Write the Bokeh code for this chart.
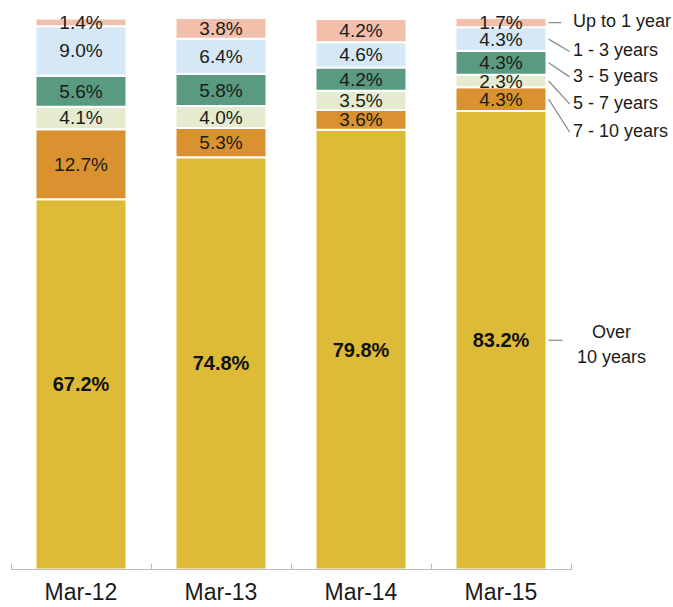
from bokeh.plotting import figure
from bokeh.models import ColumnDataSource, FixedTicker, Range1d
from bokeh.core.properties import value
from bokeh.embed import file_html
from bokeh.resources import INLINE

# ---- data ----
periods = ["Mar-12", "Mar-13", "Mar-14", "Mar-15"]
buckets = ["Over 10 years", "7 - 10 years", "5 - 7 years", "3 - 5 years", "1 - 3 years", "Up to 1 year"]
over_10 = [67.2, 74.8, 79.8, 83.2]
y7_10 = [12.7, 5.3, 3.6, 4.3]
y5_7 = [4.1, 4.0, 3.5, 2.3]
y3_5 = [5.6, 5.8, 4.2, 4.3]
y1_3 = [9.0, 6.4, 4.6, 4.3]
upto_1 = [1.4, 3.8, 4.2, 1.7]
series = [over_10, y7_10, y5_7, y3_5, y1_3, upto_1]

# ---- style ----
colors = ["#DDBB36", "#DA9230", "#E6EBCF", "#5A9A80", "#D6E8F5", "#F2BFAA"]
FONT = "Liberation Sans"
TXT = "#1b1b1b"
LEAD = "#8C8C8C"
# legend label vertical positions (layout, in % units) for the right-hand labels
label_y = [40.9, 79.6, 84.7, 89.6, 94.2, 99.6]
label_text = ["Over\n10 years", "7 - 10 years", "5 - 7 years", "3 - 5 years", "1 - 3 years", "Up to 1 year"]

W, H = 673, 607
px_per_unit = 140.0
left_px = 10.5
x0 = -0.5 - left_px / px_per_unit
x1 = x0 + W / px_per_unit
top_px = 18.0
bottom_border = 37
px_per_pct = (H - bottom_border - top_px) / 100.0
y_end = 100 + top_px / px_per_pct

p = figure(width=W, height=H, output_backend="svg", toolbar_location=None,
           x_range=Range1d(x0, x1), y_range=Range1d(0, y_end),
           y_axis_location=None, min_border_left=0, min_border_right=0,
           min_border_top=0, min_border_bottom=bottom_border)
p.outline_line_color = None
p.xgrid.visible = False
p.ygrid.visible = False
p.background_fill_color = "white"
p.border_fill_color = "white"

xs = list(range(len(periods)))
bw = 0.65
data = {"x": xs}
names = []
for i, s in enumerate(series):
    n = f"s{i}"
    data[n] = s
    names.append(n)
src = ColumnDataSource(data)
p.vbar_stack(names, x="x", width=bw, color=colors, source=src,
             line_color="white", line_width=2)

# segment value labels
lx, ly, lt = [], [], []
bx, by, bt = [], [], []
for j in xs:
    base = 0.0
    for i, s in enumerate(series):
        v = s[j]
        if i == 0:
            bx.append(j); by.append(base + v / 2); bt.append(f"{v:.1f}%")
        else:
            lx.append(j); ly.append(base + v / 2); lt.append(f"{v:.1f}%")
        base += v
p.text(x=lx, y=ly, text=lt, text_font=value(FONT),
       text_font_size="19px", text_color=TXT,
       text_align="center", text_baseline="middle")
p.text(x=bx, y=by, text=bt, text_font=value(FONT),
       text_font_size="20px", text_font_style="bold", text_color="#111111",
       text_align="center", text_baseline="middle")

# right-hand labels with leader lines (from last bar)
last = len(periods) - 1
mids = []
base = 0.0
for s in series:
    mids.append(base + s[last] / 2)
    base += s[last]
x_start = last + bw / 2 + 0.015
x_text = 3.5 + 2.0 / px_per_unit
for i in range(len(series)):
    if i == 0:
        p.segment(x0=[x_start], y0=[mids[i]], x1=[3.5 - 0.06], y1=[mids[i]],
                  line_color=LEAD, line_width=1.3)
        p.text(x=[3.79], y=[label_y[i]], text=[label_text[i]], text_font=value(FONT),
               text_font_size="18px", text_color=TXT, text_align="center",
               text_baseline="middle", text_line_height=1.25)
    elif i == len(series) - 1:
        p.segment(x0=[x_start], y0=[mids[i]], x1=[3.5 - 0.07], y1=[mids[i]],
                  line_color=LEAD, line_width=1.3)
        p.text(x=[x_text], y=[label_y[i]], text=[label_text[i]], text_font=value(FONT),
               text_font_size="18px", text_color=TXT, text_align="left",
               text_baseline="middle")
    else:
        p.segment(x0=[x_start], y0=[mids[i]], x1=[3.5 - 0.01], y1=[label_y[i] - 0.2],
                  line_color=LEAD, line_width=1.3)
        p.text(x=[x_text], y=[label_y[i]], text=[label_text[i]], text_font=value(FONT),
               text_font_size="18px", text_color=TXT, text_align="left",
               text_baseline="middle")

ax = p.xaxis[0]
ax.ticker = FixedTicker(ticks=xs, minor_ticks=[j - 0.5 for j in xs] + [xs[-1] + 0.5])
ax.major_label_overrides = {j: periods[j] for j in xs}
ax.bounds = (-0.5, len(periods) - 0.5)
ax.axis_line_color = "#BDBDBD"
ax.axis_line_width = 1.2
ax.major_tick_in = 0
ax.major_tick_out = 0
ax.minor_tick_in = 6
ax.minor_tick_out = 0
ax.minor_tick_line_color = "#BDBDBD"
ax.minor_tick_line_width = 1.2
ax.major_label_standoff = 9
ax.major_label_text_font = FONT
ax.major_label_text_font_size = "23px"
ax.major_label_text_color = TXT

open("out.html", "w").write(file_html(p, INLINE))
